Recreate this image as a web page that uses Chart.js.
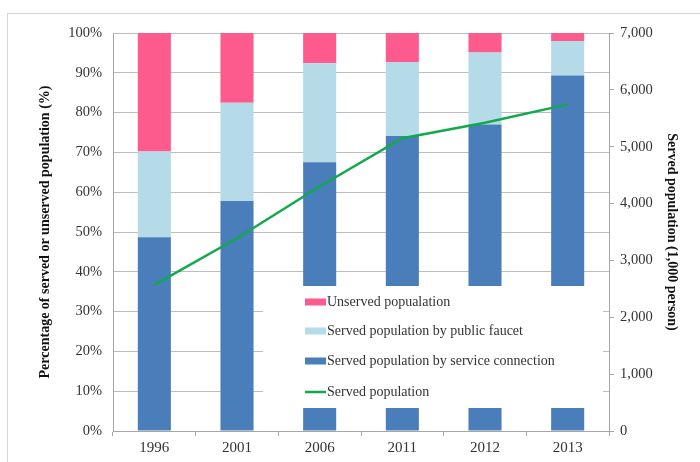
<!DOCTYPE html>
<html>
<head>
<meta charset="utf-8">
<title>Served population</title>
<script src="https://cdn.jsdelivr.net/npm/chart.js@4/dist/chart.umd.min.js"></script>
<style>
  html, body { margin: 0; padding: 0; background: #fff; }
  #wrap { width: 700px; height: 462px; }
</style>
</head>
<body>
<div id="wrap"><canvas id="grafico" width="700" height="462"></canvas></div>
<script>
// --- dados ---
const anos = ['1996', '2001', '2006', '2011', '2012', '2013'];
const ligacaoDomiciliar = [48.7, 57.8, 67.5, 74.1, 77.0, 89.3];   // % served by service connection
const torneiraPublica = [21.5, 24.7, 24.9, 18.6, 18.1, 8.7];      // % served by public faucet
const naoAtendida = [29.8, 17.5, 7.6, 7.3, 4.9, 2.0];             // % unserved
const populacaoAtendida = [2570, 3390, 4300, 5150, 5420, 5745];   // 1,000 person

const ticksPercent = [0, 10, 20, 30, 40, 50, 60, 70, 80, 90, 100];
const ticksPopulacao = [0, 1000, 2000, 3000, 4000, 5000, 6000, 7000];

const serif = "'Liberation Serif', 'Times New Roman', serif";
const corTexto = '#333';
const corGrade = '#bdbdbd';

// moldura cinza clara em volta do gráfico
const moldura = {
    id: 'moldura',
    beforeDraw(chart) {
        const ctx = chart.ctx;
        ctx.save();
        ctx.strokeStyle = '#d6d6d6';
        ctx.lineWidth = 1;
        ctx.strokeRect(7.5, 13.5, chart.width, chart.height);
        ctx.restore();
    }
};

// legenda com fundo branco por cima das barras
const legendaCaixa = {
    id: 'legendaCaixa',
    afterDatasetsDraw(chart) {
        const ctx = chart.ctx;
        const ds = chart.data.datasets;
        const ordem = [2, 1, 0, 3];
        const x0 = 263, y0 = 286, w = 340, h = 122;
        ctx.save();
        ctx.fillStyle = '#fff';
        ctx.fillRect(x0, y0, w, h);
        ctx.font = '14px ' + serif;
        ctx.textBaseline = 'middle';
        ctx.textAlign = 'left';
        const ys = [302, 331, 361, 392];
        ordem.forEach((i, k) => {
            const d = ds[i];
            const y = ys[k];
            if (d.type === 'line') {
                ctx.strokeStyle = d.borderColor;
                ctx.lineWidth = 2.5;
                ctx.beginPath();
                ctx.moveTo(305, y);
                ctx.lineTo(326, y);
                ctx.stroke();
            } else {
                ctx.fillStyle = d.backgroundColor;
                ctx.fillRect(305, y - 3.5, 21, 7);
            }
            ctx.fillStyle = '#333';
            ctx.fillText(d.label, 327, y);
        });
        ctx.restore();
    }
};

new Chart(document.getElementById('grafico'), {
    data: {
        labels: anos,
        datasets: [
            { type: 'bar', label: 'Served population by service connection', data: ligacaoDomiciliar,
              backgroundColor: '#4a7ebb', yAxisID: 'y', order: 2 },
            { type: 'bar', label: 'Served population by public faucet', data: torneiraPublica,
              backgroundColor: '#b4dbe7', yAxisID: 'y', order: 2 },
            { type: 'bar', label: 'Unserved popualation', data: naoAtendida,
              backgroundColor: '#fd5a8d', yAxisID: 'y', order: 2 },
            { type: 'line', label: 'Served population', data: populacaoAtendida,
              borderColor: '#12a84e', borderWidth: 2.5, pointRadius: 0, tension: 0,
              yAxisID: 'y1', order: 1 }
        ]
    },
    options: {
        responsive: false,
        animation: false,
        devicePixelRatio: 1,
        layout: { padding: { top: 33, left: 0, right: 0, bottom: 0 } },
        datasets: { bar: { categoryPercentage: 1, barPercentage: 0.4 } },
        plugins: { legend: { display: false }, tooltip: { enabled: false } },
        scales: {
            x: {
                stacked: true,
                grid: { offset: true, drawOnChartArea: false, drawTicks: true, tickLength: 5, color: '#a6a6a6' },
                border: { display: true, color: '#a6a6a6' },
                ticks: { color: corTexto, font: { family: serif, size: 15 }, padding: 3 },
                afterFit: s => { s.height = 31; }
            },
            y: {
                position: 'left',
                stacked: true,
                min: 0, max: 100,
                afterBuildTicks: s => { s.ticks = ticksPercent.map(v => ({ value: v })); },
                grid: { color: corGrade, drawTicks: false },
                border: { display: true, color: '#a6a6a6' },
                ticks: { color: corTexto, font: { family: serif, size: 14.5 }, padding: 11,
                         callback: v => v + '%' },
                title: { display: true, text: 'Percentage of served or unserved population (%)',
                         color: '#111', font: { family: serif, size: 14, weight: 'bold' },
                         padding: { top: 36.6, bottom: 0 } },
                afterFit: s => { s.width = 113; }
            },
            y1: {
                position: 'right',
                min: 0, max: 7000,
                afterBuildTicks: s => { s.ticks = ticksPopulacao.map(v => ({ value: v })); },
                grid: { drawOnChartArea: false, drawTicks: true, tickLength: 5, color: '#a6a6a6' },
                border: { display: true, color: '#a6a6a6' },
                ticks: { color: corTexto, font: { family: serif, size: 14.5 }, padding: 6,
                         callback: v => v.toLocaleString('en-US') },
                title: { display: true, text: 'Served population (1,000 person)',
                         color: '#111', font: { family: serif, size: 14, weight: 'bold' },
                         padding: { top: 19.6, bottom: 0 } },
                afterFit: s => { s.width = 91; }
            }
        }
    },
    plugins: [moldura, legendaCaixa]
});
</script>
</body>
</html>
